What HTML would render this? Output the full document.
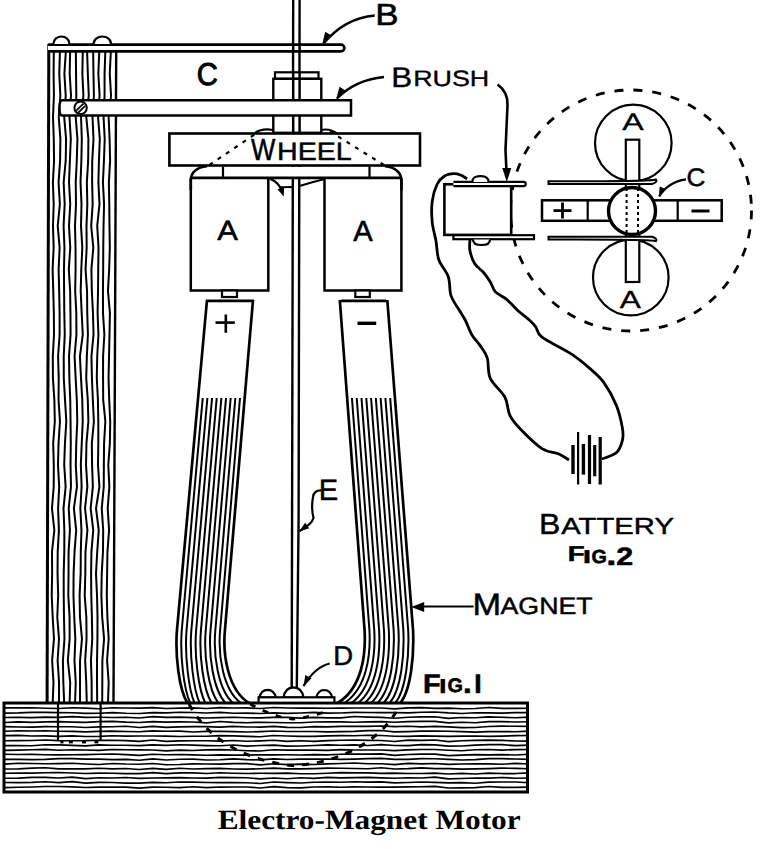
<!DOCTYPE html>
<html><head><meta charset="utf-8"><style>
html,body{margin:0;padding:0;background:#fff;width:775px;height:849px;overflow:hidden}
svg{display:block}
</style></head><body>
<svg width="775" height="849" viewBox="0 0 775 849">
<polyline points="53.78,52 53.6,73.73 53.93,95.47 53.02,117.2 53.77,138.93 54.08,160.67 52.89,182.4 53.7,204.13 52.98,225.87 53.64,247.6 52.61,269.33 53.26,291.07 53.83,312.8 53.99,334.53 52.81,356.27 52.91,378 54.35,399.73 54.81,421.47 53.18,443.2 53.8,464.93 53.72,486.67 51.97,508.4 54.35,530.13 51.99,551.87 52.13,573.6 51.72,595.33 52.69,617.07 53.97,638.8 52.12,660.53 53.48,682.27 52.66,704" fill="none" stroke="#000" stroke-width="2.0" stroke-linejoin="round"/>
<polyline points="59.91,52 59.28,73.73 60.37,95.47 58.76,117.2 60.39,138.93 60.1,160.67 58.57,182.4 59.86,204.13 57.73,225.87 59.62,247.6 58.62,269.33 59.16,291.07 59.61,312.8 59.63,334.53 58.09,356.27 58.71,378 58.56,399.73 59.95,421.47 58.55,443.2 57.99,464.93 59.19,486.67 58.09,508.4 58.9,530.13 57.7,551.87 57.53,573.6 58.17,595.33 57.29,617.07 59.01,638.8 57.62,660.53 59.03,682.27 59,704" fill="none" stroke="#000" stroke-width="2.0" stroke-linejoin="round"/>
<polyline points="65.8,52 64.39,73.73 65.72,95.47 64.21,117.2 66.07,138.93 65.72,160.67 63.65,182.4 64.68,204.13 63.6,225.87 64.47,247.6 63.95,269.33 64.1,291.07 64.3,312.8 64.76,334.53 63.72,356.27 63.8,378 65,399.73 66.31,421.47 64.95,443.2 64.19,464.93 65.64,486.67 63.5,508.4 64.34,530.13 64.29,551.87 63.7,573.6 63.72,595.33 63.98,617.07 64.46,638.8 62.92,660.53 63.32,682.27 64.24,704" fill="none" stroke="#000" stroke-width="2.0" stroke-linejoin="round"/>
<polyline points="70.13,52 69.67,73.73 71,95.47 69.5,117.2 70.8,138.93 69.88,160.67 69.01,182.4 70.23,204.13 68.99,225.87 70.26,247.6 68.81,269.33 70.15,291.07 70.44,312.8 70.57,334.53 69.03,356.27 69.34,378 70.25,399.73 70.55,421.47 70.77,443.2 70.52,464.93 70.96,486.67 68.75,508.4 69.94,530.13 68.57,551.87 68.55,573.6 68.29,595.33 69.58,617.07 69.63,638.8 67.85,660.53 70.21,682.27 69.6,704" fill="none" stroke="#000" stroke-width="2.0" stroke-linejoin="round"/>
<polyline points="75.88,52 76.04,73.73 76.31,95.47 75.69,117.2 77.43,138.93 76.78,160.67 75.72,182.4 76,204.13 75,225.87 75.54,247.6 75.59,269.33 75.18,291.07 76.29,312.8 76.44,334.53 74.56,356.27 75.66,378 76.81,399.73 77.28,421.47 76.27,443.2 75.8,464.93 76.96,486.67 73.89,508.4 76.19,530.13 74.53,551.87 73.6,573.6 73.46,595.33 74.24,617.07 75.33,638.8 74.46,660.53 75.75,682.27 75,704" fill="none" stroke="#000" stroke-width="2.0" stroke-linejoin="round"/>
<polyline points="82.76,52 82.36,73.73 83.41,95.47 81.04,117.2 81.82,138.93 81.36,160.67 80.52,182.4 81.51,204.13 81.01,225.87 82.31,247.6 81.29,269.33 80.68,291.07 81.67,312.8 82.77,334.53 79.91,356.27 80.99,378 82.27,399.73 82.74,421.47 81.75,443.2 80.82,464.93 81.62,486.67 80.35,508.4 81.45,530.13 80.79,551.87 80.65,573.6 79.6,595.33 79.98,617.07 81.97,638.8 80.05,660.53 80.03,682.27 80.02,704" fill="none" stroke="#000" stroke-width="2.0" stroke-linejoin="round"/>
<polyline points="87.12,52 87.84,73.73 88.78,95.47 86.3,117.2 88.39,138.93 88.17,160.67 86.85,182.4 87.34,204.13 86.48,225.87 86.67,247.6 85.55,269.33 87.06,291.07 87.25,312.8 87.92,334.53 86.85,356.27 86.21,378 87.78,399.73 88.38,421.47 86.45,443.2 86.02,464.93 87.37,486.67 85.03,508.4 87.41,530.13 85.48,551.87 85.32,573.6 84.72,595.33 86.34,617.07 86.56,638.8 85.17,660.53 86.23,682.27 86.8,704" fill="none" stroke="#000" stroke-width="2.0" stroke-linejoin="round"/>
<polyline points="93.17,52 93.48,73.73 93.9,95.47 92.52,117.2 93.51,138.93 92.23,160.67 92.11,182.4 92.67,204.13 91.2,225.87 93.33,247.6 91.39,269.33 91.85,291.07 92.95,312.8 93.55,334.53 91.45,356.27 91.92,378 92.84,399.73 93.88,421.47 91.85,443.2 92.08,464.93 92.86,486.67 90.65,508.4 93.26,530.13 91.43,551.87 91.1,573.6 91.27,595.33 91.89,617.07 92.25,638.8 90.95,660.53 91.64,682.27 91.71,704" fill="none" stroke="#000" stroke-width="2.0" stroke-linejoin="round"/>
<polyline points="99.22,52 98.35,73.73 99.57,95.47 98.04,117.2 99.79,138.93 98.92,160.67 98.4,182.4 99.48,204.13 97.21,225.87 98.53,247.6 98.21,269.33 98.02,291.07 97.59,312.8 98.43,334.53 97.22,356.27 96.78,378 97.91,399.73 98.31,421.47 98.32,443.2 98,464.93 99.45,486.67 96.01,508.4 98.73,530.13 97.23,551.87 95.98,573.6 97.02,595.33 97.52,617.07 97.43,638.8 97.03,660.53 97.01,682.27 97.2,704" fill="none" stroke="#000" stroke-width="2.0" stroke-linejoin="round"/>
<polyline points="105.31,52 104.57,73.73 104.58,95.47 103.58,117.2 104.71,138.93 103.95,160.67 102.91,182.4 104.08,204.13 103.54,225.87 103.26,247.6 103.18,269.33 102.96,291.07 102.99,312.8 104.35,334.53 103.08,356.27 103.05,378 103.2,399.73 105.34,421.47 104.07,443.2 103.86,464.93 103.75,486.67 101.75,508.4 103.2,530.13 102.97,551.87 101.73,573.6 101.36,595.33 102.19,617.07 104.08,638.8 102.36,660.53 102.32,682.27 102.19,704" fill="none" stroke="#000" stroke-width="2.0" stroke-linejoin="round"/>
<polyline points="110.81,52 109.76,73.73 111.05,95.47 108.64,117.2 109.58,138.93 110.11,160.67 108.88,182.4 109.28,204.13 109.48,225.87 109.83,247.6 109.16,269.33 107.98,291.07 109.91,312.8 109.5,334.53 109.04,356.27 108.54,378 109.21,399.73 110.22,421.47 109.86,443.2 108.3,464.93 109.35,486.67 107.72,508.4 109.07,530.13 107.45,551.87 107.11,573.6 106.78,595.33 107.38,617.07 108.66,638.8 107.08,660.53 108.66,682.27 107.95,704" fill="none" stroke="#000" stroke-width="2.0" stroke-linejoin="round"/>
<line x1="48.8" y1="44" x2="47.1" y2="703" stroke="#000" stroke-width="3"/>
<line x1="116.2" y1="51" x2="113.5" y2="703" stroke="#000" stroke-width="2.4"/>
<rect x="4" y="702" width="524.5" height="90" fill="#fff"/>
<polyline points="5,707.83 18.44,707.83 31.87,707.8 45.31,708.24 58.74,708.47 72.18,707.79 85.62,708.15 99.05,708.75 112.49,707.7 125.92,708.02 139.36,708.08 152.79,707.69 166.23,708.48 179.67,708.14 193.1,707.87 206.54,708.53 219.97,707.56 233.41,707.95 246.85,707.94 260.28,708.55 273.72,707.55 287.15,708 300.59,708.19 314.03,708.04 327.46,708.2 340.9,708.09 354.33,708.04 367.77,708.01 381.21,708.02 394.64,708.84 408.08,707.85 421.51,707.69 434.95,708.32 448.38,708.15 461.82,708.8 475.26,708.52 488.69,707.5 502.13,708.31 515.56,708.42 529,708.3" fill="none" stroke="#000" stroke-width="1.65" stroke-linejoin="round"/>
<polyline points="5,713.1 18.44,712.88 31.87,712.31 45.31,712.41 58.74,712.62 72.18,712.75 85.62,713.4 99.05,713.25 112.49,712.64 125.92,713.25 139.36,713.46 152.79,712.68 166.23,712.86 179.67,712.28 193.1,712.45 206.54,713.02 219.97,712.32 233.41,713.22 246.85,713.09 260.28,713.45 273.72,712.84 287.15,713.36 300.59,713.04 314.03,712.44 327.46,713.08 340.9,712.97 354.33,712.43 367.77,712.53 381.21,712.61 394.64,712.61 408.08,712.87 421.51,712.26 434.95,711.99 448.38,712.92 461.82,713.45 475.26,712.7 488.69,712.9 502.13,713.12 515.56,712.64 529,712.68" fill="none" stroke="#000" stroke-width="1.65" stroke-linejoin="round"/>
<polyline points="5,717.48 18.44,717.39 31.87,717.64 45.31,717.16 58.74,717.41 72.18,716.58 85.62,717.34 99.05,717.28 112.49,717.46 125.92,717.26 139.36,717.99 152.79,716.6 166.23,717.33 179.67,717.19 193.1,717.68 206.54,718.03 219.97,717.59 233.41,717.28 246.85,717.7 260.28,717.92 273.72,717.31 287.15,717.41 300.59,718.12 314.03,717.31 327.46,717.92 340.9,717.82 354.33,716.55 367.77,717.1 381.21,717.43 394.64,718.24 408.08,717.21 421.51,716.93 434.95,716.79 448.38,718.31 461.82,717.54 475.26,717.75 488.69,716.9 502.13,717.28 515.56,717.79 529,717.06" fill="none" stroke="#000" stroke-width="1.65" stroke-linejoin="round"/>
<polyline points="5,722.5 18.44,721.85 31.87,722.42 45.31,721.91 58.74,721.62 72.18,722.11 85.62,722.36 99.05,721.69 112.49,721.32 125.92,722.12 139.36,722.51 152.79,721.56 166.23,722.07 179.67,721.92 193.1,721.95 206.54,722.84 219.97,721.51 233.41,722.43 246.85,722.7 260.28,722.2 273.72,722.46 287.15,722.7 300.59,722.78 314.03,722.05 327.46,721.92 340.9,721.89 354.33,722.26 367.77,721.89 381.21,721.59 394.64,722.3 408.08,721.67 421.51,721.34 434.95,721.32 448.38,722.84 461.82,722.27 475.26,722.78 488.69,721.67 502.13,721.65 515.56,721.96 529,721.78" fill="none" stroke="#000" stroke-width="1.65" stroke-linejoin="round"/>
<polyline points="5,726.66 18.44,726.98 31.87,727.07 45.31,726.67 58.74,726.7 72.18,726.78 85.62,727.5 99.05,726.9 112.49,726.74 125.92,726.29 139.36,727.47 152.79,726.37 166.23,727.38 179.67,726.89 193.1,726.56 206.54,726.63 219.97,727.16 233.41,726.4 246.85,726.95 260.28,727.09 273.72,726.43 287.15,727.38 300.59,727.51 314.03,726.67 327.46,726.88 340.9,726.44 354.33,726.43 367.77,726.33 381.21,726.03 394.64,726.67 408.08,726.25 421.51,726.92 434.95,726.4 448.38,726.83 461.82,727.59 475.26,727.5 488.69,726.54 502.13,726.16 515.56,726.27 529,726.32" fill="none" stroke="#000" stroke-width="1.65" stroke-linejoin="round"/>
<polyline points="5,731.28 18.44,730.7 31.87,731.02 45.31,730.73 58.74,731.29 72.18,731.4 85.62,731.94 99.05,731.4 112.49,731.06 125.92,731.45 139.36,731.73 152.79,730.9 166.23,731.28 179.67,731.14 193.1,731.95 206.54,731.37 219.97,731.35 233.41,731.6 246.85,732.02 260.28,731.61 273.72,731.05 287.15,731.5 300.59,731.54 314.03,731.52 327.46,731.85 340.9,731.68 354.33,731.42 367.77,730.58 381.21,730.53 394.64,731.91 408.08,731.64 421.51,731.1 434.95,731.15 448.38,731.24 461.82,731.69 475.26,732.07 488.69,731.59 502.13,731.59 515.56,731.76 529,731.14" fill="none" stroke="#000" stroke-width="1.65" stroke-linejoin="round"/>
<polyline points="5,735.68 18.44,735.42 31.87,735.98 45.31,735.83 58.74,736.34 72.18,735.87 85.62,736.48 99.05,736.43 112.49,735.76 125.92,736.13 139.36,736.02 152.79,736.03 166.23,736.12 179.67,736.49 193.1,736.25 206.54,736.21 219.97,735.6 233.41,735.84 246.85,736.43 260.28,736.78 273.72,735.53 287.15,735.95 300.59,736.32 314.03,736.32 327.46,735.89 340.9,735.66 354.33,735.78 367.77,735.22 381.21,735.47 394.64,736.29 408.08,736.36 421.51,735.93 434.95,736.12 448.38,736.4 461.82,736.17 475.26,735.99 488.69,736.39 502.13,736.07 515.56,735.69 529,735.54" fill="none" stroke="#000" stroke-width="1.65" stroke-linejoin="round"/>
<polyline points="5,740.75 18.44,740.63 31.87,740.52 45.31,740.03 58.74,740.69 72.18,740.74 85.62,740.68 99.05,740.3 112.49,740.28 125.92,740.64 139.36,741.36 152.79,740.05 166.23,741.38 179.67,740.94 193.1,740.75 206.54,740.75 219.97,741.15 233.41,740.55 246.85,741.28 260.28,740.92 273.72,740.3 287.15,741.35 300.59,740.73 314.03,741.37 327.46,740.65 340.9,740.27 354.33,740.02 367.77,740.31 381.21,740.52 394.64,741.47 408.08,740.13 421.51,740.31 434.95,740.04 448.38,741.59 461.82,740.72 475.26,740.43 488.69,740.07 502.13,740.39 515.56,740.98 529,741.13" fill="none" stroke="#000" stroke-width="1.65" stroke-linejoin="round"/>
<polyline points="5,745.65 18.44,745.63 31.87,745.72 45.31,744.75 58.74,744.82 72.18,745.41 85.62,745.89 99.05,744.94 112.49,745.28 125.92,745.24 139.36,745.68 152.79,744.84 166.23,745.35 179.67,744.8 193.1,745.16 206.54,745.56 219.97,745.79 233.41,745 246.85,746.08 260.28,745.55 273.72,745.09 287.15,746.07 300.59,745.95 314.03,745.46 327.46,744.82 340.9,745.22 354.33,744.83 367.77,745.5 381.21,744.66 394.64,745.48 408.08,745.59 421.51,744.57 434.95,744.9 448.38,746.06 461.82,746.04 475.26,745.07 488.69,744.69 502.13,744.68 515.56,745.66 529,745.1" fill="none" stroke="#000" stroke-width="1.65" stroke-linejoin="round"/>
<polyline points="5,750.32 18.44,750.17 31.87,749.73 45.31,749.34 58.74,750.3 72.18,749.71 85.62,750.02 99.05,750.33 112.49,749.55 125.92,749.78 139.36,749.93 152.79,749.95 166.23,750.81 179.67,750.13 193.1,750.52 206.54,749.86 219.97,749.66 233.41,750.03 246.85,750.72 260.28,751 273.72,749.78 287.15,750.1 300.59,750.17 314.03,750.17 327.46,750.42 340.9,749.56 354.33,749.95 367.77,749.95 381.21,749.99 394.64,750.58 408.08,749.93 421.51,749.54 434.95,749.46 448.38,750.23 461.82,750.71 475.26,749.76 488.69,749.51 502.13,750.08 515.56,749.58 529,749.54" fill="none" stroke="#000" stroke-width="1.65" stroke-linejoin="round"/>
<polyline points="5,754.2 18.44,754.45 31.87,754.36 45.31,754.76 58.74,754.87 72.18,754.76 85.62,754.67 99.05,754.3 112.49,753.97 125.92,754.67 139.36,755.34 152.79,754.26 166.23,754.72 179.67,754.55 193.1,754.83 206.54,755.21 219.97,754.87 233.41,755.08 246.85,755.06 260.28,754.75 273.72,754.92 287.15,754.8 300.59,754.97 314.03,754.69 327.46,754.87 340.9,754.23 354.33,754 367.77,754.07 381.21,753.91 394.64,755.35 408.08,754.55 421.51,754.19 434.95,754.19 448.38,755.56 461.82,755.06 475.26,754.57 488.69,754.82 502.13,754.62 515.56,755.03 529,754.23" fill="none" stroke="#000" stroke-width="1.65" stroke-linejoin="round"/>
<polyline points="5,759.32 18.44,759.39 31.87,759.57 45.31,759.33 58.74,758.61 72.18,758.66 85.62,759.16 99.05,759.06 112.49,759.56 125.92,759.42 139.36,760.23 152.79,758.83 166.23,760.05 179.67,759.23 193.1,759.09 206.54,759.97 219.97,759.73 233.41,758.93 246.85,759.63 260.28,759.94 273.72,758.89 287.15,759.53 300.59,759.16 314.03,759.16 327.46,758.99 340.9,759.31 354.33,759.09 367.77,758.67 381.21,758.41 394.64,759.39 408.08,759.31 421.51,758.69 434.95,758.75 448.38,759.36 461.82,760.02 475.26,759.57 488.69,758.67 502.13,758.67 515.56,759.04 529,759.37" fill="none" stroke="#000" stroke-width="1.65" stroke-linejoin="round"/>
<polyline points="5,764.15 18.44,763.25 31.87,763.49 45.31,763.75 58.74,763.66 72.18,763.3 85.62,764.02 99.05,764.54 112.49,763.5 125.92,764.05 139.36,764.26 152.79,763.53 166.23,764.7 179.67,764.47 193.1,763.85 206.54,763.99 219.97,764.14 233.41,763.69 246.85,763.65 260.28,764.9 273.72,763.77 287.15,764.66 300.59,764.1 314.03,764.54 327.46,763.87 340.9,763.49 354.33,763.05 367.77,763.7 381.21,763.74 394.64,764.67 408.08,763.32 421.51,763.81 434.95,763.46 448.38,764.33 461.82,763.97 475.26,763.93 488.69,763.81 502.13,764.21 515.56,763.38 529,763.95" fill="none" stroke="#000" stroke-width="1.65" stroke-linejoin="round"/>
<polyline points="5,768.98 18.44,768.85 31.87,768.18 45.31,767.78 58.74,768.89 72.18,768.7 85.62,768.86 99.05,768.22 112.49,768.81 125.92,768.5 139.36,769.5 152.79,768.4 166.23,769.31 179.67,768.22 193.1,768.95 206.54,768.67 219.97,768.44 233.41,769.03 246.85,769.19 260.28,768.77 273.72,768.19 287.15,768.86 300.59,768.87 314.03,768.65 327.46,768.15 340.9,768.23 354.33,768.47 367.77,768.72 381.21,767.74 394.64,768.95 408.08,768.69 421.51,767.83 434.95,768.62 448.38,768.56 461.82,769.11 475.26,768.87 488.69,768.58 502.13,768.19 515.56,768.37 529,768.7" fill="none" stroke="#000" stroke-width="1.65" stroke-linejoin="round"/>
<polyline points="5,773.22 18.44,773.16 31.87,773.1 45.31,772.77 58.74,772.55 72.18,772.96 85.62,773.51 99.05,773.06 112.49,773.29 125.92,773.58 139.36,773.67 152.79,772.58 166.23,773.58 179.67,772.81 193.1,772.89 206.54,773.55 219.97,772.76 233.41,773.24 246.85,773.49 260.28,773.27 273.72,773.3 287.15,773.17 300.59,773.75 314.03,773.73 327.46,773.22 340.9,772.67 354.33,772.88 367.77,772.81 381.21,773.37 394.64,773.14 408.08,773.45 421.51,773.51 434.95,773.15 448.38,773.97 461.82,773.32 475.26,773.98 488.69,773.08 502.13,773.55 515.56,773.55 529,772.9" fill="none" stroke="#000" stroke-width="1.65" stroke-linejoin="round"/>
<polyline points="5,778.26 18.44,778.11 31.87,777.33 45.31,777.33 58.74,777.99 72.18,777.12 85.62,778.6 99.05,777.76 112.49,777.99 125.92,777.54 139.36,778.37 152.79,778.03 166.23,777.94 179.67,777.63 193.1,777.95 206.54,778.08 219.97,777.35 233.41,777.61 246.85,777.76 260.28,778.88 273.72,777.99 287.15,778.7 300.59,777.79 314.03,778.39 327.46,777.44 340.9,777.84 354.33,777.67 367.77,777.44 381.21,777.94 394.64,778.24 408.08,777.8 421.51,778.04 434.95,777.12 448.38,778.81 461.82,778.45 475.26,778 488.69,778.06 502.13,777.45 515.56,778.28 529,777.99" fill="none" stroke="#000" stroke-width="1.65" stroke-linejoin="round"/>
<polyline points="5,782.45 18.44,782.58 31.87,782.39 45.31,781.79 58.74,782.62 72.18,781.65 85.62,783.17 99.05,782.38 112.49,782.45 125.92,783.1 139.36,783.11 152.79,782.4 166.23,782.7 179.67,782 193.1,782.09 206.54,782.54 219.97,782.62 233.41,782.53 246.85,782.79 260.28,783.49 273.72,782.05 287.15,782.62 300.59,782.96 314.03,782.21 327.46,781.97 340.9,782.3 354.33,781.75 367.77,782.09 381.21,781.89 394.64,782.92 408.08,782.46 421.51,781.96 434.95,782.33 448.38,782.9 461.82,782.56 475.26,783.24 488.69,782.11 502.13,781.97 515.56,781.96 529,782.71" fill="none" stroke="#000" stroke-width="1.65" stroke-linejoin="round"/>
<polyline points="5,787.65 18.44,787.25 31.87,787 45.31,786.53 58.74,786.48 72.18,786.94 85.62,787.54 99.05,787.14 112.49,787.11 125.92,787.17 139.36,788.14 152.79,787.12 166.23,787.28 179.67,787.62 193.1,786.75 206.54,787.61 219.97,787.05 233.41,786.97 246.85,786.95 260.28,788.01 273.72,786.57 287.15,787.62 300.59,787.92 314.03,786.99 327.46,786.83 340.9,787.22 354.33,786.83 367.77,787.05 381.21,787.18 394.64,787.13 408.08,786.81 421.51,786.71 434.95,786.36 448.38,788 461.82,787.91 475.26,787.65 488.69,786.51 502.13,787.37 515.56,787.32 529,787.17" fill="none" stroke="#000" stroke-width="1.65" stroke-linejoin="round"/>
<rect x="4" y="703" width="523.5" height="89" fill="none" stroke="#000" stroke-width="3"/>
<line x1="58" y1="702" x2="58" y2="741" stroke="#000" stroke-width="2.2"/>
<line x1="100.6" y1="702" x2="100.6" y2="741" stroke="#000" stroke-width="2.2"/>
<rect x="60.4" y="740.3" width="3.1" height="3.1" fill="#000"/>
<rect x="68.9" y="740.3" width="3.9" height="3.1" fill="#000"/>
<rect x="82" y="740.3" width="4" height="3.1" fill="#000"/>
<rect x="94.5" y="740.3" width="3.8" height="3.1" fill="#000"/>
<path d="M189,704 C205,735 240,760 292,765.5 C340,764 380,740 396,712" fill="none" stroke="#000" stroke-width="3" stroke-dasharray="7,8"/>
<path d="M250,704 C265,712 280,718 293,719 C305,718 318,714 325,712" fill="none" stroke="#000" stroke-width="2.8" stroke-dasharray="6,8"/>
<path d="M207,300 L176.97,630 C175,655 179,690 187.5,703" fill="none" stroke="#000" stroke-width="2.7"/>
<path d="M202.74,398 L181.77,630 C179.75,655 183.9,690 190.25,703" fill="none" stroke="#000" stroke-width="2.0"/>
<path d="M207.4,398 L186.57,630 C184.5,655 188.8,690 194.5,703" fill="none" stroke="#000" stroke-width="2.0"/>
<path d="M212.06,398 L191.36,630 C189.25,655 193.7,690 199.61,703" fill="none" stroke="#000" stroke-width="2.0"/>
<path d="M216.72,398 L196.16,630 C194,655 198.6,690 205.35,703" fill="none" stroke="#000" stroke-width="2.0"/>
<path d="M221.38,398 L200.96,630 C198.75,655 203.5,690 211.63,703" fill="none" stroke="#000" stroke-width="2.0"/>
<path d="M226.03,398 L205.76,630 C203.5,655 208.4,690 218.36,703" fill="none" stroke="#000" stroke-width="2.0"/>
<path d="M230.69,398 L210.56,630 C208.25,655 213.3,690 225.5,703" fill="none" stroke="#000" stroke-width="2.0"/>
<path d="M235.35,398 L215.35,630 C213,655 218.2,690 233,703" fill="none" stroke="#000" stroke-width="2.0"/>
<path d="M240.01,398 L220.15,630 C217.75,655 223.1,690 240.85,703" fill="none" stroke="#000" stroke-width="2.0"/>
<path d="M253,300 L224.95,630 C222.5,655 228,690 249,703" fill="none" stroke="#000" stroke-width="2.7"/>
<line x1="206" y1="300.8" x2="254" y2="300.8" stroke="#000" stroke-width="2.8"/>
<path d="M387.3,300 L413.04,630 C414.2,655 411,690 400.3,703" fill="none" stroke="#000" stroke-width="2.7"/>
<path d="M390.16,398 L408.19,630 C409.38,655 406.1,689.8 395.33,703" fill="none" stroke="#000" stroke-width="2.0"/>
<path d="M385.39,398 L403.34,630 C404.56,655 401.2,689.6 389.64,703" fill="none" stroke="#000" stroke-width="2.0"/>
<path d="M380.61,398 L398.49,630 C399.74,655 396.3,689.4 383.65,703" fill="none" stroke="#000" stroke-width="2.0"/>
<path d="M375.83,398 L393.64,630 C394.92,655 391.4,689.2 377.45,703" fill="none" stroke="#000" stroke-width="2.0"/>
<path d="M371.05,398 L388.8,630 C390.1,655 386.5,689 371.1,703" fill="none" stroke="#000" stroke-width="2.0"/>
<path d="M366.27,398 L383.95,630 C385.28,655 381.6,688.8 364.61,703" fill="none" stroke="#000" stroke-width="2.0"/>
<path d="M361.49,398 L379.1,630 C380.46,655 376.7,688.6 358.02,703" fill="none" stroke="#000" stroke-width="2.0"/>
<path d="M356.71,398 L374.25,630 C375.64,655 371.8,688.4 351.33,703" fill="none" stroke="#000" stroke-width="2.0"/>
<path d="M351.93,398 L369.4,630 C370.82,655 366.9,688.2 344.55,703" fill="none" stroke="#000" stroke-width="2.0"/>
<path d="M339.8,300 L364.55,630 C366,655 362,688 337.7,703" fill="none" stroke="#000" stroke-width="2.7"/>
<line x1="386.3" y1="300.8" x2="340.8" y2="300.8" stroke="#000" stroke-width="2.8"/>
<line x1="215.5" y1="322.6" x2="234.8" y2="322.6" stroke="#000" stroke-width="2.6"/>
<line x1="225.8" y1="314.5" x2="225.8" y2="332.8" stroke="#000" stroke-width="2.6"/>
<line x1="357.5" y1="323.3" x2="376.2" y2="323.3" stroke="#000" stroke-width="3.4"/>
<line x1="293.2" y1="0" x2="291.7" y2="688" stroke="#000" stroke-width="2.4"/>
<path d="M299.6,0 L298.6,520 L296.8,688" fill="none" stroke="#000" stroke-width="2.4"/>
<path d="M259.5,697.5 Q261,690 267.5,689.8 Q274,690 276,697.5 Z" fill="#fff" stroke="#000" stroke-width="2.2"/>
<path d="M283.5,697.5 Q285,687.5 293.5,687.3 Q302,687.5 303.5,697.5 Z" fill="#fff" stroke="#000" stroke-width="2.2"/>
<path d="M316.3,697.5 Q318,690.2 324,690 Q331,690.2 332,697.5 Z" fill="#fff" stroke="#000" stroke-width="2.2"/>
<rect x="258.6" y="697.3" width="75.8" height="5.4" fill="#fff" stroke="#000" stroke-width="2.2"/>
<path d="M48,44.6 L341,44.6 A3.4,3.4 0 0 1 341,51.4 L48,51.4" fill="#fff" stroke="#000" stroke-width="2.6"/>
<path d="M53.3,44 C54,34 69,34 69.5,44" fill="#fff" stroke="#000" stroke-width="2.2"/>
<path d="M93.6,44 C94,34 110.8,34 111,44" fill="#fff" stroke="#000" stroke-width="2.2"/>
<line x1="293.2" y1="44.5" x2="293.2" y2="51.5" stroke="#000" stroke-width="2.5"/>
<line x1="299.6" y1="44.5" x2="299.6" y2="51.5" stroke="#000" stroke-width="2.5"/>
<rect x="275" y="72.3" width="43.5" height="6.5" fill="#fff" stroke="#000" stroke-width="2.2"/>
<rect x="273.3" y="78.8" width="48" height="54" fill="#fff" stroke="#000" stroke-width="2.4"/>
<line x1="293.2" y1="72" x2="293.2" y2="133" stroke="#000" stroke-width="2.5"/>
<line x1="299.6" y1="72" x2="299.6" y2="133" stroke="#000" stroke-width="2.5"/>
<path d="M62,100.2 L351,100.2 L351,115.5 L62,115.5 Q59.5,115.5 59.5,108 Q59.5,100.2 62,100.2 Z" fill="#fff" stroke="#000" stroke-width="2.5"/>
<circle cx="80.6" cy="107.8" r="6.2" fill="#fff" stroke="#000" stroke-width="2"/>
<line x1="76.2" y1="110.6" x2="83.5" y2="103.6" stroke="#000" stroke-width="1.8"/>
<line x1="78" y1="112.8" x2="85.2" y2="105.8" stroke="#000" stroke-width="1.8"/>
<rect x="169.4" y="133.5" width="250.6" height="32" fill="#fff" stroke="#000" stroke-width="2.6"/>
<text transform="matrix(0.25806 0 0 0.30435 225.085 99.080)" x="100" y="200" font-size="100" style="font-family:'Liberation Sans';font-weight:normal" text-rendering="geometricPrecision" fill="#000" stroke="#000" stroke-width="1.78" stroke-linejoin="round">W</text>
<text transform="matrix(0.28640 0 0 0.25072 248.319 109.805)" x="100" y="200" font-size="100" style="font-family:'Liberation Sans';font-weight:normal" text-rendering="geometricPrecision" fill="#000" stroke="#000" stroke-width="1.86" stroke-linejoin="round">HEEL</text>
<path d="M209.4,165 L259,131.5" fill="none" stroke="#000" stroke-width="2.2" stroke-dasharray="4,6"/>
<path d="M384,165 L330,131.5" fill="none" stroke="#000" stroke-width="2.2" stroke-dasharray="4,6"/>
<path d="M255,133 Q262,128 273,130" fill="none" stroke="#000" stroke-width="2.2"/>
<path d="M321,130 Q330,128 338,134" fill="none" stroke="#000" stroke-width="2.2"/>
<rect x="192" y="167" width="208" height="10.9" fill="#fff"/>
<line x1="192" y1="177.9" x2="400" y2="177.9" stroke="#000" stroke-width="2.6"/>
<line x1="223" y1="166.5" x2="223" y2="178" stroke="#000" stroke-width="2.2"/>
<line x1="369.5" y1="166.5" x2="369.5" y2="178" stroke="#000" stroke-width="2.2"/>
<path d="M190.8,190 L190.8,180 Q191.5,168 207,166.3" fill="none" stroke="#000" stroke-width="2.6"/>
<path d="M401.4,190 L401.4,180 Q400.5,168 385,166.3" fill="none" stroke="#000" stroke-width="2.6"/>
<path d="M190.8,178 L190.8,290.5 L268.3,290.5 L268.3,178" fill="none" stroke="#000" stroke-width="2.5"/>
<path d="M324.5,178 L324.5,290.5 L401.4,290.5 L401.4,178" fill="none" stroke="#000" stroke-width="2.5"/>
<text transform="matrix(0.30909 0 0 0.27826 186.391 184.648)" x="100" y="200" font-size="100" style="font-family:'Liberation Sans';font-weight:normal" text-rendering="geometricPrecision" fill="#000" stroke="#000" stroke-width="2.04" stroke-linejoin="round">A</text>
<text transform="matrix(0.29242 0 0 0.29130 324.058 182.839)" x="100" y="200" font-size="100" style="font-family:'Liberation Sans';font-weight:normal" text-rendering="geometricPrecision" fill="#000" stroke="#000" stroke-width="2.06" stroke-linejoin="round">A</text>
<rect x="222" y="290.5" width="15" height="6.5" fill="#fff" stroke="#000" stroke-width="2.2"/>
<rect x="355.3" y="290.5" width="14.5" height="6.5" fill="#fff" stroke="#000" stroke-width="2.2"/>
<path d="M269.8,178.6 Q279,182 283,193" fill="none" stroke="#000" stroke-width="2.2"/>
<path d="M283.7,196.5 L277.42,189.16 L284.03,186.85 Z" fill="#000"/>
<line x1="281" y1="187.2" x2="292.5" y2="187" stroke="#000" stroke-width="2"/>
<path d="M299.6,186 Q312,182 325,179" fill="none" stroke="#000" stroke-width="2.2"/>
<text transform="matrix(0.35094 0 0 0.30580 340.198 -36.659)" x="100" y="200" font-size="100" style="font-family:'Liberation Sans';font-weight:normal" text-rendering="geometricPrecision" fill="#000" stroke="#000" stroke-width="1.83" stroke-linejoin="round">B</text>
<path d="M374.7,15.5 Q345,18 323.5,43.5" fill="none" stroke="#000" stroke-width="2.4"/>
<path d="M322.4,44 L325.14,31.65 L332,35.77 Z" fill="#000"/>
<text transform="matrix(0.29206 0 0 0.31408 167.533 22.369)" x="100" y="200" font-size="100" style="font-family:'Liberation Sans';font-weight:normal" text-rendering="geometricPrecision" fill="#000" stroke="#000" stroke-width="3.3" stroke-linejoin="round">C</text>
<text transform="matrix(0.31321 0 0 0.28551 359.874 29.399)" x="100" y="200" font-size="100" style="font-family:'Liberation Sans';font-weight:normal" text-rendering="geometricPrecision" fill="#000" stroke="#000" stroke-width="1.34" stroke-linejoin="round">B</text>
<text transform="matrix(0.26816 0 0 0.22254 386.438 41.770)" x="100" y="200" font-size="100" style="font-family:'Liberation Sans';font-weight:normal" text-rendering="geometricPrecision" fill="#000" stroke="#000" stroke-width="1.63" stroke-linejoin="round">RUSH</text>
<path d="M384,77 Q355,80 337,98.5" fill="none" stroke="#000" stroke-width="2.4"/>
<path d="M336.3,99 L339.49,86.76 L346.19,91.12 Z" fill="#000"/>
<text transform="matrix(0.29074 0 0 0.29420 289.700 441.659)" x="100" y="200" font-size="100" style="font-family:'Liberation Sans';font-weight:normal" text-rendering="geometricPrecision" fill="#000" stroke="#000" stroke-width="1.37" stroke-linejoin="round">E</text>
<path d="M321,490.3 Q314,490 313,497 Q311,508 313.5,518 Q312,524 299.5,531" fill="none" stroke="#000" stroke-width="2.2"/>
<path d="M299.2,531.5 L305.1,522.7 L309.3,528.3 Z" fill="#000"/>
<text transform="matrix(0.27458 0 0 0.27391 305.796 610.667)" x="100" y="200" font-size="100" style="font-family:'Liberation Sans';font-weight:normal" text-rendering="geometricPrecision" fill="#000" stroke="#000" stroke-width="1.82" stroke-linejoin="round">D</text>
<path d="M329.7,663.5 Q315,667 303.5,686" fill="none" stroke="#000" stroke-width="2.2"/>
<path d="M303.5,686.5 L305.29,675.1 L311.55,678.23 Z" fill="#000"/>
<text transform="matrix(0.34328 0 0 0.30725 438.075 553.101)" x="100" y="200" font-size="100" style="font-family:'Liberation Sans';font-weight:normal" text-rendering="geometricPrecision" fill="#000" stroke="#000" stroke-width="1.54" stroke-linejoin="round">M</text>
<text transform="matrix(0.26784 0 0 0.23521 473.666 567.273)" x="100" y="200" font-size="100" style="font-family:'Liberation Sans';font-weight:normal" text-rendering="geometricPrecision" fill="#000" stroke="#000" stroke-width="1.99" stroke-linejoin="round">AGNET</text>
<line x1="416" y1="606.5" x2="473.6" y2="606.5" stroke="#000" stroke-width="2.2"/>
<path d="M411.2,607 L424.2,602 L424.2,612 Z" fill="#000"/>
<text transform="matrix(0.28800 0 0 0.26812 394.284 638.977)" x="100" y="200" font-size="100" style="font-family:'Liberation Sans';font-weight:bold" text-rendering="geometricPrecision" fill="#000" stroke="#000" stroke-width="2.16" stroke-linejoin="round">F</text>
<text transform="matrix(0.25714 0 0 0.20145 413.586 652.310)" x="100" y="200" font-size="100" style="font-family:'Liberation Sans';font-weight:bold" text-rendering="geometricPrecision" fill="#000" stroke="#000" stroke-width="2.62" stroke-linejoin="round">I</text>
<text transform="matrix(0.19706 0 0 0.19577 427.806 653.249)" x="100" y="200" font-size="100" style="font-family:'Liberation Sans';font-weight:bold" text-rendering="geometricPrecision" fill="#000" stroke="#000" stroke-width="3.05" stroke-linejoin="round">G</text>
<text transform="matrix(0.31429 0 0 0.28667 431.671 635.267)" x="100" y="200" font-size="100" style="font-family:'Liberation Sans';font-weight:bold" text-rendering="geometricPrecision" fill="#000" stroke="#000" stroke-width="2" stroke-linejoin="round">.</text>
<text transform="matrix(0.26429 0 0 0.26812 447.921 638.977)" x="100" y="200" font-size="100" style="font-family:'Liberation Sans';font-weight:bold" text-rendering="geometricPrecision" fill="#000" stroke="#000" stroke-width="2.25" stroke-linejoin="round">I</text>
<circle cx="631" cy="210.5" r="120.5" fill="none" stroke="#000" stroke-width="2.8" stroke-dasharray="9,10"/>
<circle cx="633.3" cy="143" r="38.3" fill="#fff" stroke="#000" stroke-width="2.2"/>
<circle cx="630.8" cy="277.5" r="37.8" fill="#fff" stroke="#000" stroke-width="2.2"/>
<text transform="matrix(0.32121 0 0 0.24058 590.079 81.384)" x="100" y="200" font-size="100" style="font-family:'Liberation Sans';font-weight:normal" text-rendering="geometricPrecision" fill="#000" stroke="#000" stroke-width="1.42" stroke-linejoin="round">A</text>
<text transform="matrix(0.31667 0 0 0.24928 588.033 257.945)" x="100" y="200" font-size="100" style="font-family:'Liberation Sans';font-weight:normal" text-rendering="geometricPrecision" fill="#000" stroke="#000" stroke-width="1.41" stroke-linejoin="round">A</text>
<rect x="625.8" y="139.7" width="13.5" height="142.3" fill="#fff" stroke="#000" stroke-width="2.2"/>
<rect x="542" y="200.3" width="179.7" height="20.5" fill="#fff" stroke="#000" stroke-width="2.5"/>
<line x1="587.7" y1="200" x2="587.7" y2="221" stroke="#000" stroke-width="2.2"/>
<line x1="677.7" y1="200" x2="677.7" y2="221" stroke="#000" stroke-width="2.2"/>
<circle cx="632" cy="211" r="23.5" fill="#fff" stroke="#000" stroke-width="3.4"/>
<line x1="626.6" y1="188" x2="626.6" y2="234" stroke="#000" stroke-width="2" stroke-dasharray="3,3"/>
<line x1="638" y1="188" x2="638" y2="234" stroke="#000" stroke-width="2" stroke-dasharray="3,3"/>
<line x1="553.5" y1="210.6" x2="571.5" y2="210.6" stroke="#000" stroke-width="2.8"/>
<line x1="562.5" y1="202.5" x2="562.5" y2="218.5" stroke="#000" stroke-width="2.8"/>
<line x1="691.5" y1="211" x2="709.5" y2="211" stroke="#000" stroke-width="3"/>
<path d="M548.5,184 L652,184 Q658,182 656,179.5 Q650,181.5 548.5,181.3 Z" fill="#fff" stroke="#000" stroke-width="2"/>
<path d="M548.5,236.8 L652,236.8 Q658,238.8 656,241 Q650,239.2 548.5,239.5 Z" fill="#fff" stroke="#000" stroke-width="2"/>
<text transform="matrix(0.26190 0 0 0.25352 660.350 135.292)" x="100" y="200" font-size="100" style="font-family:'Liberation Sans';font-weight:normal" text-rendering="geometricPrecision" fill="#000" stroke="#000" stroke-width="1.94" stroke-linejoin="round">C</text>
<path d="M686,179.4 Q668,182 659.2,196.4" fill="none" stroke="#000" stroke-width="2.2"/>
<path d="M658.8,197 L659.71,186.44 L666.1,189.32 Z" fill="#000"/>
<rect x="444.4" y="184.3" width="66.8" height="50.6" fill="#fff" stroke="#000" stroke-width="2.6"/>
<path d="M453.4,181.8 L523.5,181.8 A2.2,2.2 0 0 1 523.5,186.2 L453.4,186.2" fill="#fff" stroke="#000" stroke-width="2.2"/>
<rect x="453.4" y="235.2" width="80.6" height="4" fill="#fff" stroke="#000" stroke-width="2.2"/>
<path d="M472.4,182 Q472,176 480.5,176.2 Q488.6,176 488.6,182" fill="#fff" stroke="#000" stroke-width="2.2"/>
<path d="M473,239.4 Q473,245 481.5,245 Q490,245 490,239.4" fill="#fff" stroke="#000" stroke-width="2.2"/>
<path d="M497.6,84.5 Q508,92 507.5,105 L505.5,150 L506.5,172" fill="none" stroke="#000" stroke-width="2.6"/>
<path d="M506.8,182 L502.3,168 L511.3,168 Z" fill="#000"/>
<path d="M467.1,178.8 C466,178.17 462.7,175.87 460.5,175 C458.3,174.13 456.57,173.43 453.9,173.6 C451.23,173.77 447.32,174.18 444.5,176 C441.68,177.82 439.05,180.27 437,184.5 C434.95,188.73 433,195.12 432.2,201.4 C431.4,207.68 431.57,215.6 432.2,222.2 C432.83,228.8 434.9,234.73 436,241 C437.1,247.27 436.75,253.83 438.8,259.8 C440.85,265.77 446.27,270.83 448.3,276.8 C450.33,282.77 449.12,289.95 451,295.6 C452.88,301.25 457.23,306.63 459.6,310.7 C461.97,314.77 463.13,315.95 465.2,320 C467.27,324.05 469.53,330.77 472,335 C474.47,339.23 477.47,341.6 480,345.4 C482.53,349.2 485.48,352.3 487.2,357.8 C488.92,363.3 487.37,371.87 490.3,378.4 C493.23,384.93 501.52,390.8 504.8,397 C508.08,403.2 507.25,410.1 510,415.6 C512.75,421.1 515.97,424.5 521.3,430 C526.63,435.5 535.82,444.63 542,448.6 C548.18,452.57 553.9,451.9 558.4,453.8 C562.9,455.7 567.23,458.97 569,460" fill="none" stroke="#000" stroke-width="2.8"/>
<path d="M469.9,240 C469.9,241.73 469.12,246.47 469.9,250.4 C470.68,254.33 472.25,259.83 474.6,263.6 C476.95,267.37 481.33,269.85 484,273 C486.67,276.15 488.7,279.35 490.6,282.5 C492.5,285.65 492.72,289.08 495.4,291.9 C498.08,294.72 502.93,296.27 506.7,299.4 C510.47,302.53 514.23,307.27 518,310.7 C521.77,314.13 526.35,317.32 529.3,320 C532.25,322.68 533.58,323.93 535.7,326.8 C537.82,329.67 536.15,332.72 542,337.2 C547.85,341.68 562.9,348.55 570.8,353.7 C578.7,358.85 583.88,363.28 589.4,368.1 C594.92,372.92 599.42,376.4 603.9,382.6 C608.38,388.8 613.22,397.73 616.3,405.3 C619.38,412.87 621.38,422.15 622.4,428 C623.42,433.85 623.42,436.27 622.4,440.4 C621.38,444.53 619.73,449.7 616.3,452.8 C612.87,455.9 604.22,457.97 601.8,459" fill="none" stroke="#000" stroke-width="2.8"/>
<line x1="573" y1="445" x2="573" y2="474" stroke="#000" stroke-width="3.4"/>
<line x1="578.1" y1="432" x2="578.1" y2="484.5" stroke="#000" stroke-width="2.2"/>
<line x1="583.4" y1="444" x2="583.4" y2="474.6" stroke="#000" stroke-width="3.4"/>
<line x1="589.5" y1="435" x2="589.5" y2="484" stroke="#000" stroke-width="3.2"/>
<line x1="594.7" y1="445" x2="594.7" y2="476.3" stroke="#000" stroke-width="3.2"/>
<line x1="600.2" y1="437" x2="600.2" y2="484.5" stroke="#000" stroke-width="3.2"/>
<text transform="matrix(0.32075 0 0 0.29130 507.008 475.389)" x="100" y="200" font-size="100" style="font-family:'Liberation Sans';font-weight:normal" text-rendering="geometricPrecision" fill="#000" stroke="#000" stroke-width="1.63" stroke-linejoin="round">B</text>
<text transform="matrix(0.29243 0 0 0.23188 532.007 487.273)" x="100" y="200" font-size="100" style="font-family:'Liberation Sans';font-weight:normal" text-rendering="geometricPrecision" fill="#000" stroke="#000" stroke-width="1.91" stroke-linejoin="round">ATTERY</text>
<text transform="matrix(0.27600 0 0 0.21594 540.068 518.212)" x="100" y="200" font-size="100" style="font-family:'Liberation Sans';font-weight:bold" text-rendering="geometricPrecision" fill="#000" stroke="#000" stroke-width="2.44" stroke-linejoin="round">F</text>
<text transform="matrix(0.28571 0 0 0.18551 554.529 525.799)" x="100" y="200" font-size="100" style="font-family:'Liberation Sans';font-weight:bold" text-rendering="geometricPrecision" fill="#000" stroke="#000" stroke-width="2.55" stroke-linejoin="round">I</text>
<text transform="matrix(0.19706 0 0 0.19014 571.806 525.382)" x="100" y="200" font-size="100" style="font-family:'Liberation Sans';font-weight:bold" text-rendering="geometricPrecision" fill="#000" stroke="#000" stroke-width="3.1" stroke-linejoin="round">G</text>
<text transform="matrix(0.36429 0 0 0.28000 569.821 508.500)" x="100" y="200" font-size="100" style="font-family:'Liberation Sans';font-weight:bold" text-rendering="geometricPrecision" fill="#000" stroke="#000" stroke-width="1.86" stroke-linejoin="round">.</text>
<text transform="matrix(0.30408 0 0 0.25000 585.780 515.000)" x="100" y="200" font-size="100" style="font-family:'Liberation Sans';font-weight:bold" text-rendering="geometricPrecision" fill="#000" stroke="#000" stroke-width="2.17" stroke-linejoin="round">2</text>
<text transform="matrix(0.31329 0 0 0.27778 186.344 773.111)" x="100" y="200" font-size="100" style="font-family:'Liberation Serif';font-weight:bold" text-rendering="geometricPrecision" fill="#000">Electro-Magnet Motor</text>
</svg>
</body></html>
